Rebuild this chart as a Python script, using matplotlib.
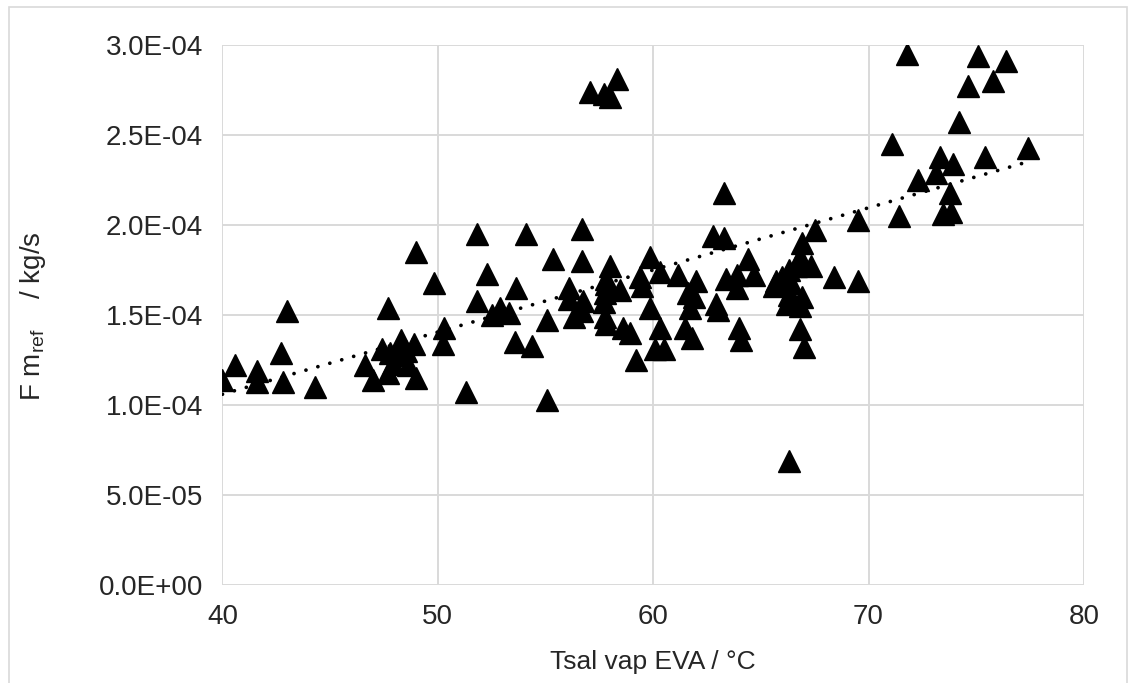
import matplotlib.pyplot as plt
from matplotlib.patches import Rectangle
from matplotlib.ticker import FuncFormatter
import numpy as np

plt.rcParams['font.family'] = ['Liberation Sans', 'DejaVu Sans']

# measured points: saturation temperature (degC) and mass flow (1e-4 kg/s)
tsal = [40.0, 40.6, 41.6, 41.6, 42.7, 42.8, 43.0, 44.3,
        46.6, 47.0, 47.4, 47.7, 47.8, 47.7, 47.9, 48.3, 48.2, 48.6, 48.9, 49.0, 48.5,
        49.0, 49.8, 50.3, 50.25, 51.3,
        51.8, 52.3, 51.8, 52.5, 52.9, 53.3, 53.65, 53.6, 54.35, 54.1, 55.05, 55.05, 55.35,
        56.7, 56.7, 56.1, 56.1, 56.3, 56.75, 56.7,
        57.05, 57.7, 58.3, 58.0,
        58.0, 57.8, 58.45, 57.7, 57.75, 57.8, 58.6, 58.9, 59.2, 57.8, 57.75,
        59.85, 59.4, 59.5, 60.3, 59.85, 60.3, 60.1, 60.5,
        61.15, 62.0, 61.6, 61.9, 61.7, 61.5, 61.8,
        62.8, 63.3, 63.3, 63.4, 63.9, 63.9, 62.9, 63.0, 64.0, 64.1, 64.4, 64.7,
        65.7, 65.6, 66.0, 66.3, 66.65, 66.8, 67.35, 66.3, 66.2, 66.8, 66.9, 66.8, 67.0,
        66.4, 66.9, 67.5, 66.3, 66.5,
        68.4, 69.5, 69.5, 71.4, 71.1, 71.8, 72.3, 73.15, 73.3, 73.9, 73.8, 73.45, 73.85,
        74.2, 74.6, 75.1, 75.8, 76.4, 75.4, 77.4]
fmref = [1.14, 1.22, 1.19, 1.13, 1.29, 1.13, 1.52, 1.10,
         1.22, 1.14, 1.31, 1.54, 1.29, 1.18, 1.23, 1.36, 1.28, 1.22, 1.34, 1.15, 1.30,
         1.85, 1.68, 1.43, 1.34, 1.07,
         1.95, 1.73, 1.58, 1.50, 1.54, 1.51, 1.65, 1.35, 1.33, 1.95, 1.47, 1.03, 1.81,
         1.98, 1.80, 1.65, 1.59, 1.49, 1.58, 1.52,
         2.74, 2.73, 2.81, 2.71,
         1.77, 1.67, 1.64, 1.57, 1.49, 1.45, 1.43, 1.40, 1.25, 1.70, 1.62,
         1.82, 1.71, 1.66, 1.74, 1.54, 1.43, 1.31, 1.31,
         1.72, 1.69, 1.62, 1.60, 1.54, 1.43, 1.37,
         1.94, 1.93, 2.18, 1.70, 1.72, 1.65, 1.56, 1.53, 1.43, 1.36, 1.81, 1.72,
         1.69, 1.66, 1.71, 1.75, 1.77, 1.82, 1.77, 1.61, 1.56, 1.55, 1.60, 1.42, 1.32,
         1.68, 1.90, 1.97, 0.69, 1.58,
         1.71, 1.69, 2.03, 2.05, 2.45, 2.95, 2.25, 2.29, 2.38, 2.34, 2.18, 2.06, 2.07,
         2.57, 2.77, 2.94, 2.80, 2.91, 2.38, 2.43]

# linear trendline end points
trend_t = [40.0, 77.5]
trend_f = [1.06, 2.355]

fig = plt.figure(figsize=(11.35, 6.83), dpi=100)
ax = fig.add_axes([0.196, 0.1435, 0.759, 0.7905])

ax.plot(tsal, np.array(fmref) * 1e-4, linestyle='none', marker='^',
        markersize=16, color='black', zorder=3)
ax.plot(trend_t, np.array(trend_f) * 1e-4, color='black', linewidth=2.7,
        linestyle=(0, (0.01, 3.3)), dash_capstyle='round', zorder=4)

ax.set_xlim(40, 80)
ax.set_ylim(0, 3.0e-4)
ax.set_xticks([40, 50, 60, 70, 80])
ax.set_yticks(np.arange(0, 3.01e-4, 0.5e-4))
ax.yaxis.set_major_formatter(FuncFormatter(lambda v, p: '%.1E' % v))

ax.grid(True, color='#d9d9d9', linewidth=1.4, zorder=0)
ax.set_axisbelow(True)
for s in ax.spines.values():
    s.set_visible(False)
ax.tick_params(axis='x', length=0, labelsize=20, colors='#262626', pad=14)
ax.tick_params(axis='y', length=0, labelsize=20, colors='#262626', pad=14)

fig.text(653 / 1135, 1 - 662 / 683, 'Tsal vap EVA / °C', fontsize=19,
         color='#262626', ha='center', va='center')
fig.text(33 / 1135, 1 - 316 / 683, r'F m$_{\mathregular{ref}}$    / kg/s',
         fontsize=20, color='#262626', ha='center', va='center', rotation=90)

fig.patches.append(Rectangle((9 / 1135, -0.02), 1118 / 1135, 1 - 7 / 683 + 0.02,
                             transform=fig.transFigure, fill=False,
                             edgecolor='#d9d9d9', linewidth=1.2))

fig.savefig('out.png', dpi=100)
